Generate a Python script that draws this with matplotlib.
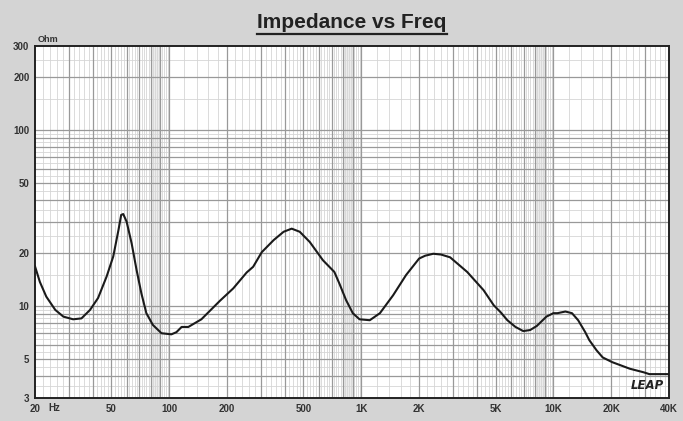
import matplotlib
matplotlib.use("Agg")
import matplotlib.pyplot as plt
from matplotlib.lines import Line2D

# impedance curve (Hz, Ohm)
freq = [20, 21.2, 22.9, 25.5, 28.1, 31.6, 34.9, 38.7, 42.6, 47.2, 51.1, 54.4,
        56.2, 57.6, 60.0, 63.7, 67.6, 71.6, 76.0, 82.2, 91.1, 102.6, 109, 116,
        125.7, 147, 183.6, 215.6, 253, 273.5, 303, 350, 394, 434, 478, 539,
        631, 724, 769, 833, 903, 979, 1107, 1250, 1464, 1711, 2000, 2150, 2370,
        2600, 2900, 3560, 4330, 4890, 5320, 5760, 6350, 6970, 7570, 8200, 9200,
        10000, 10500, 11550, 12500, 13460, 14650, 15380, 16780, 18070, 20200,
        25000, 29500, 31600, 40000]
ohm = [16.8, 13.7, 11.3, 9.5, 8.7, 8.4, 8.5, 9.5, 11.1, 14.7, 19.1, 27.0,
       32.9, 33.3, 30.1, 22.7, 16.0, 11.8, 9.1, 7.8, 7.0, 6.9, 7.1, 7.6,
       7.6, 8.4, 10.7, 12.6, 15.5, 16.7, 20.2, 23.7, 26.4, 27.5, 26.4, 23.1,
       18.2, 15.6, 13.4, 10.8, 9.1, 8.4, 8.3, 9.1, 11.5, 15.0, 18.6, 19.3, 19.8,
       19.6, 18.9, 15.6, 12.3, 10.1, 9.2, 8.3, 7.6, 7.2, 7.3, 7.7, 8.7,
       9.1, 9.1, 9.3, 9.1, 8.3, 7.1, 6.4, 5.6, 5.1, 4.8,
       4.4, 4.2, 4.1, 4.1]

xticks = [20, 50, 100, 200, 500, 1000, 2000, 5000, 10000, 20000, 40000]
xlabels = ["20", "50", "100", "200", "500", "1K", "2K", "5K", "10K", "20K", "40K"]
yticks = [3, 5, 10, 20, 50, 100, 200, 300]
ylabels = ["3", "5", "10", "20", "50", "100", "200", "300"]

bg = "#d4d4d4"
fig = plt.figure(figsize=(6.83, 4.21), dpi=100, facecolor=bg)
ax = fig.add_axes([35 / 683, 23 / 421, 634 / 683, 352 / 421])
ax.set_xscale("log")
ax.set_yscale("log")
ax.set_xlim(20, 40000)
ax.set_ylim(3, 300)
ax.set_facecolor("white")

# grid: shaded 8..9 band, fine lines, main lines
for dec in [10, 100, 1000, 10000]:
    ax.axvspan(8 * dec, 9 * dec, color="#ececec", zorder=0, lw=0)
    for n in range(1, 10):
        for k in range(1, 5):
            v = (n + 0.2 * k) * dec
            if 20 < v < 40000:
                ax.axvline(v, color="#d6d6d6", lw=0.6, zorder=0.5)
        if 20 < n * dec < 40000:
            ax.axvline(n * dec, color="#999999", lw=0.9, zorder=1)
for dec in [1, 10, 100]:
    for n in range(1, 10):
        v = (n + 0.5) * dec
        if 3 < v < 300:
            ax.axhline(v, color="#d6d6d6", lw=0.6, zorder=0.5)
        if 3 < n * dec < 300:
            ax.axhline(n * dec, color="#999999", lw=0.9, zorder=1)

ax.plot(freq, ohm, color="#1a1a1a", lw=1.5, zorder=3, solid_joinstyle="round")

ax.set_xticks(xticks)
ax.set_xticklabels(xlabels)
ax.set_yticks(yticks)
ax.set_yticklabels(ylabels)
ax.minorticks_off()
ax.tick_params(length=0, labelsize=7, labelcolor="#333333", pad=4)
for lab in ax.get_xticklabels() + ax.get_yticklabels():
    lab.set_fontweight("bold")
    lab.set_family("Liberation Sans")
for s in ax.spines.values():
    s.set_linewidth(1.4)
    s.set_color("#222222")

ax.text(0.004, 1.005, "Ohm", transform=ax.transAxes, fontsize=6.5, fontweight="bold",
        color="#333333", family="Liberation Sans", va="bottom")
ax.text(23.5, 2.82, "Hz", fontsize=7, fontweight="bold", color="#333333",
        family="Liberation Sans", va="top", ha="left")
ax.text(0.992, 0.018, "LEAP", transform=ax.transAxes, fontsize=8.5, fontweight="heavy",
        fontstyle="italic", color="#222222", family="DejaVu Sans", ha="right", va="bottom")

title = fig.text(352 / 683, 1 - 23 / 421, "Impedance vs Freq", ha="center", va="center",
                 fontsize=15, fontweight="bold", color="#222222", family="Liberation Sans")
fig.canvas.draw()
bb = title.get_window_extent().transformed(fig.transFigure.inverted())
fig.add_artist(Line2D([bb.x0, bb.x1], [bb.y0 - 0.004, bb.y0 - 0.004],
                      transform=fig.transFigure, color="#222222", lw=1.6))

fig.savefig("out.png", dpi=100, facecolor=bg)
